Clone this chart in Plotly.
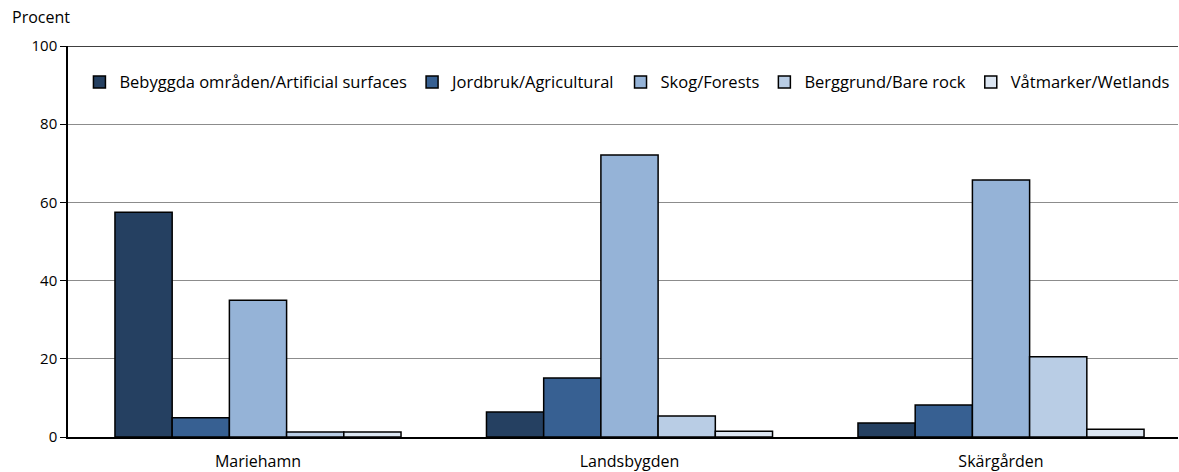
import plotly.graph_objects as go

categories = ["Mariehamn", "Landsbygden", "Skärgården"]
series_names = [
    "Bebyggda områden/Artificial surfaces",
    "Jordbruk/Agricultural",
    "Skog/Forests",
    "Berggrund/Bare rock",
    "Våtmarker/Wetlands",
]
bebyggda = [57.5, 6.4, 3.6]
jordbruk = [4.9, 15.1, 8.2]
skog = [35.0, 72.1, 65.7]
berggrund = [1.3, 5.4, 20.5]
vatmarker = [1.3, 1.5, 2.0]
tick_vals = [0, 20, 40, 60, 80, 100]

colors = ["#254061", "#376092", "#95B3D7", "#B9CDE5", "#DCE6F2"]
values = [bebyggda, jordbruk, skog, berggrund, vatmarker]

FONT = "Open Sans"

fig = go.Figure()
for name, vals, col in zip(series_names, values, colors):
    fig.add_trace(go.Bar(
        x=categories, y=vals, name=name,
        marker=dict(color=col, line=dict(color="black", width=1.5)),
    ))

fig.update_layout(
    width=1179, height=472,
    barmode="group", bargap=0.23, bargroupgap=0,
    plot_bgcolor="white", paper_bgcolor="white",
    margin=dict(l=68, r=1, t=46, b=35, autoexpand=False),
    font=dict(family=FONT, size=15, color="black"),
    showlegend=True,
    legend=dict(
        orientation="h", x=0.504, xanchor="center", y=0.952, yanchor="top",
        font=dict(family=FONT, size=16.5), bgcolor="rgba(0,0,0,0)",
        traceorder="normal", itemwidth=30, tracegroupgap=0,
    ),
    xaxis=dict(
        showline=True, linecolor="black", linewidth=1.5,
        ticks="", tickfont=dict(size=16), showgrid=False,
        ticklabelstandoff=9, range=[-0.5114, 2.4764],
    ),
    yaxis=dict(
        range=[0, 100], tickvals=tick_vals, showline=True, linecolor="black",
        linewidth=1.5, ticks="outside", ticklen=6, tickcolor="black",
        showgrid=True, gridcolor="#8c8c8c", gridwidth=1, zeroline=False,
        tickfont=dict(size=15),
    ),
    annotations=[dict(
        text="Procent", xref="paper", yref="paper", x=-0.0525, y=1.0,
        xanchor="left", yanchor="bottom", yshift=16, showarrow=False,
        font=dict(family=FONT, size=16),
    )],
    shapes=[dict(type="line", xref="paper", yref="y", x0=0, x1=1, y0=100, y1=100,
                 line=dict(color="black", width=1.5))],
)

fig.write_html(
    "out.html",
    config={"displayModeBar": False},
    post_script="document.body.style.margin='0';document.body.style.overflow='hidden';",
)
